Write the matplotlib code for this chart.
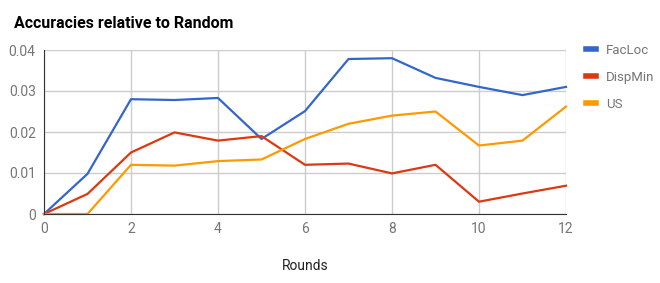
import matplotlib.pyplot as plt
from matplotlib.lines import Line2D

plt.rcParams['font.family'] = ['Roboto', 'DejaVu Sans']

# Data
rounds = list(range(13))
facloc = [0, 0.0098, 0.0280, 0.0278, 0.0283, 0.0183, 0.0251, 0.0378, 0.0380, 0.0332, 0.0310, 0.0290, 0.0310]
dispmin = [0, 0.0049, 0.0150, 0.0199, 0.0179, 0.0190, 0.0120, 0.0123, 0.0099, 0.0120, 0.0030, 0.0050, 0.0069]
us = [0, 0, 0.0120, 0.0118, 0.0129, 0.0133, 0.0183, 0.0220, 0.0240, 0.0250, 0.0167, 0.0179, 0.0262]

series = [('FacLoc', facloc, '#3366cc'),
          ('DispMin', dispmin, '#dc3912'),
          ('US', us, '#ff9900')]

fig = plt.figure(figsize=(6.6, 2.83), dpi=100)
ax = fig.add_axes([44 / 660, 1 - 214 / 283, 522 / 660, 164 / 283])

for name, vals, color in series:
    ax.plot(rounds, vals, color=color, lw=1.6, label=name, zorder=3, clip_on=False)

ax.set_xlim(0, 12)
ax.set_ylim(0, 0.04)
ax.set_xticks(range(0, 13, 2))
ax.set_yticks([0, 0.01, 0.02, 0.03, 0.04])
ax.set_yticklabels(['0', '0.01', '0.02', '0.03', '0.04'])
ax.grid(color='#cccccc', lw=1)
ax.tick_params(length=0, colors='#757575', labelsize=10, pad=6)
for s in ['top', 'right']:
    ax.spines[s].set_visible(False)
for s in ['left', 'bottom']:
    ax.spines[s].set_color('#333333')
    ax.spines[s].set_zorder(4)

ax.set_xlabel('Rounds', fontsize=10, color='#222222', labelpad=16)
fig.text(14 / 660, 1 - 24 / 283, 'Accuracies relative to Random', fontsize=11.5,
         fontweight='bold', color='#000000', va='center', ha='left')

handles = [Line2D([], [], color=c, lw=4) for _, _, c in series]
fig.legend(handles, [n for n, _, _ in series], loc='upper left',
           bbox_to_anchor=(574 / 660, 1 - 32 / 283), frameon=False,
           fontsize=9.5, labelcolor='#757575', handlelength=0.75,
           handletextpad=0.8, labelspacing=1.05)

fig.savefig('out.png', dpi=100)
